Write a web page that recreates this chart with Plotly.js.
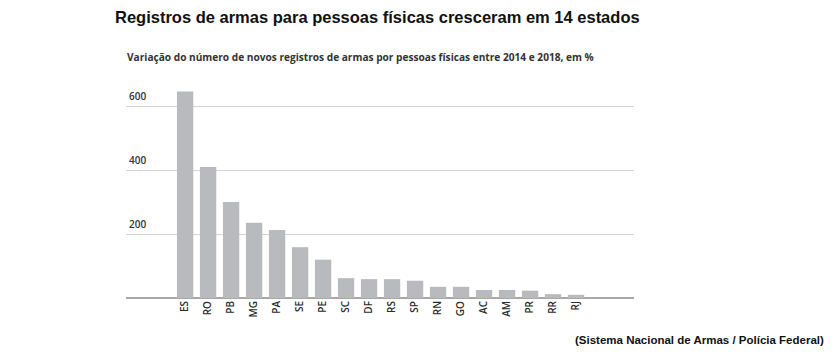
<!DOCTYPE html>
<html>
<head>
<meta charset="utf-8">
<script src="https://cdn.plot.ly/plotly-3.0.1.min.js"></script>
<style>html,body{margin:0;padding:0;background:#fff;}#chart{width:835px;height:354px;}</style>
</head>
<body>
<div id="chart"></div>
<script>
const states = ["ES","RO","PB","MG","PA","SE","PE","SC","DF","RS","SP","RN","GO","AC","AM","PR","RR","RJ"];
const variation = [646, 410, 300, 235, 213, 159, 120, 62, 59, 59, 54, 35, 35, 25, 25, 23, 12, 10];
const yTicks = [0, 200, 400, 600];
const yTickLabels = ["", "200", "400", "600"];

const titleText = "Registros de armas para pessoas físicas cresceram em 14 estados";
const subtitleText = "Variação do número de novos registros de armas por pessoas físicas entre 2014 e 2018, em %";
const sourceText = "(Sistema Nacional de Armas / Polícia Federal)";

const trace = {
  type: "bar",
  x: states,
  y: variation,
  marker: {color: "#b9babd"},
  hoverinfo: "x+y"
};

const layout = {
  width: 835, height: 354,
  margin: {l: 126, r: 201, t: 87, b: 56},
  paper_bgcolor: "#fff", plot_bgcolor: "#fff",
  bargap: 0.29,
  showlegend: false,
  xaxis: {
    type: "category",
    range: [-2.57, 19.52],
    tickangle: -90,
    tickfont: {family: "Open Sans, Noto Sans, sans-serif", size: 10, color: "#2a2a2a", weight: 600},
    showgrid: false, zeroline: false, showline: false,
    ticks: "", ticklen: 0
  },
  yaxis: {
    range: [0, 660],
    tickvals: yTicks,
    ticktext: yTickLabels,
    ticklabelposition: "inside top",
    ticklabelshift: -3,
    tickfont: {family: "Open Sans, Noto Sans, sans-serif", size: 10, color: "#333", weight: 600},
    showgrid: true, gridcolor: "#d4d4d4", gridwidth: 1,
    zeroline: true, zerolinecolor: "#a8a8a8", zerolinewidth: 1.5,
    showline: false, ticks: ""
  },
  annotations: [
    {text: "<b>" + titleText + "</b>", xref: "paper", yref: "paper", x: (112.7-126)/508, y: 1 + (87-17)/211, xanchor: "left", yanchor: "middle", showarrow: false,
     font: {family: "Liberation Sans, Arial, sans-serif", size: 16.5, color: "#111"}},
    {text: "<b>" + subtitleText + "</b>", xref: "paper", yref: "paper", x: -1/508, y: 1 + (87-57)/211, xanchor: "left", yanchor: "middle", showarrow: false,
     font: {family: "Open Sans, Noto Sans, sans-serif", size: 10.15, color: "#333"}},
    {text: "<b>" + sourceText + "</b>", xref: "paper", yref: "paper", x: (826-126)/508, y: -(340-298)/211, xanchor: "right", yanchor: "middle", showarrow: false,
     font: {family: "Liberation Sans, Arial, sans-serif", size: 11.5, color: "#111"}}
  ]
};

Plotly.newPlot("chart", [trace], layout, {displayModeBar: false, staticPlot: true});
</script>
</body>
</html>
